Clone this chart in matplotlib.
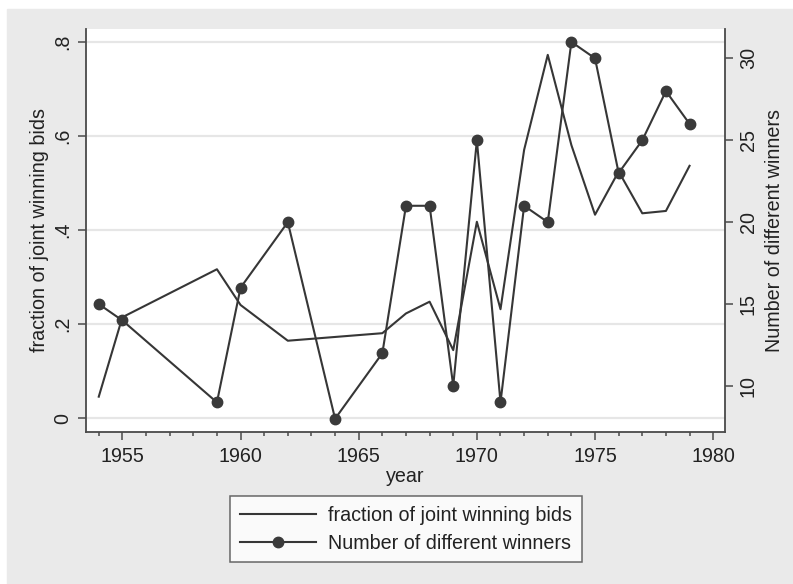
import matplotlib
matplotlib.use('Agg')
import matplotlib.pyplot as plt
from matplotlib.patches import Rectangle

plt.rcParams['font.family'] = ['Liberation Sans', 'DejaVu Sans']

# ── Data ──────────────────────────────────────────────────────────────────────
years = [1954, 1955, 1959, 1960, 1962, 1964, 1966, 1967, 1968, 1969,
         1970, 1971, 1972, 1973, 1974, 1975, 1976, 1977, 1978, 1979]
frac_joint = [0.046, 0.215, 0.317, 0.241, 0.165, 0.173, 0.181, 0.223, 0.248, 0.145,
              0.418, 0.232, 0.571, 0.773, 0.581, 0.433, 0.525, 0.436, 0.441, 0.537]
n_winners = [15, 14, 9, 16, 20, 8, 12, 21, 21, 10,
             25, 9, 21, 20, 31, 30, 23, 25, 28, 26]

x_major = [1955, 1960, 1965, 1970, 1975, 1980]
left_ticks = [0, 0.2, 0.4, 0.6, 0.8]
left_labels = ['0', '.2', '.4', '.6', '.8']
right_ticks = [10, 15, 20, 25, 30]

# ── Style ─────────────────────────────────────────────────────────────────────
BG = '#eaeaea'
INK = '#222222'
LINE = '#363636'
AXIS = '#4a4a4a'
FS = 14.2

W, H = 793, 584
fig = plt.figure(figsize=(W / 100, H / 100), dpi=100)
fig.patch.set_facecolor('white')
fig.patches.append(Rectangle((7 / W, 0), 1 - 7 / W, 1 - 9 / H,
                             transform=fig.transFigure, color=BG, zorder=-10))

ax = fig.add_axes([86 / W, 1 - 431.7 / H, (725 - 86) / W, (431.7 - 29) / H])
ax.set_facecolor('white')
ax2 = ax.twinx()

ax.plot(years, frac_joint, color=LINE, lw=1.5, zorder=3)
ax2.plot(years, n_winners, color=LINE, lw=1.5, marker='o', ms=7.5,
         mfc='#3a3a3a', mec='#3a3a3a', zorder=3)

ax.set_xlim(1953.46, 1980.5)
ax.set_ylim(-0.0285, 0.828)
ax2.set_ylim(7.21, 31.79)

ax.set_xticks(x_major)
ax.set_xticks(range(1954, 1980), minor=True)
ax.set_yticks(left_ticks)
ax.set_yticklabels(left_labels)
ax2.set_yticks(right_ticks)

ax.yaxis.grid(True, color='#e6e6e6', lw=1.6)
ax.set_axisbelow(True)

for a in (ax, ax2):
    for s in a.spines.values():
        s.set_visible(False)
for side in ('left', 'bottom'):
    ax.spines[side].set_visible(True)
    ax.spines[side].set_color(AXIS)
    ax.spines[side].set_linewidth(1.3)
ax2.spines['right'].set_visible(True)
ax2.spines['right'].set_color(AXIS)
ax2.spines['right'].set_linewidth(1.3)

ax.tick_params(axis='x', which='major', length=6, width=1.1, color=AXIS,
               labelsize=FS, labelcolor=INK, pad=5)
ax.tick_params(axis='x', which='minor', length=3, width=1.1, color=AXIS)
ax.tick_params(axis='y', length=6, width=1.1, color=AXIS, labelsize=FS,
               labelcolor=INK, labelrotation=90, pad=4)
ax2.tick_params(axis='y', length=6, width=1.1, color=AXIS, labelsize=FS,
                labelcolor=INK, labelrotation=90, pad=4)
for lbl in ax.get_yticklabels() + ax2.get_yticklabels():
    lbl.set_va('center')

ax.set_xlabel('year', fontsize=FS, color=INK, labelpad=1)
ax.set_ylabel('fraction of joint winning bids', fontsize=FS, color=INK, labelpad=3)
ax2.set_ylabel('Number of different winners', fontsize=FS, color=INK, labelpad=5)

h1 = ax.get_lines()[0]
h2 = ax2.get_lines()[0]
leg = fig.legend([h1, h2], ['fraction of joint winning bids', 'Number of different winners'],
                 loc='center', bbox_to_anchor=(405.9 / W, 1 - 529.2 / H),
                 fontsize=FS, frameon=True, fancybox=False, handlelength=3.9,
                 handletextpad=0.6, labelspacing=0.45, borderpad=0.5,
                 borderaxespad=0)
leg.get_frame().set_edgecolor('#444444')
leg.get_frame().set_linewidth(1.1)
leg.get_frame().set_facecolor('white')
for t in leg.get_texts():
    t.set_color(INK)

fig.savefig('out.png', dpi=100, facecolor=fig.get_facecolor())
